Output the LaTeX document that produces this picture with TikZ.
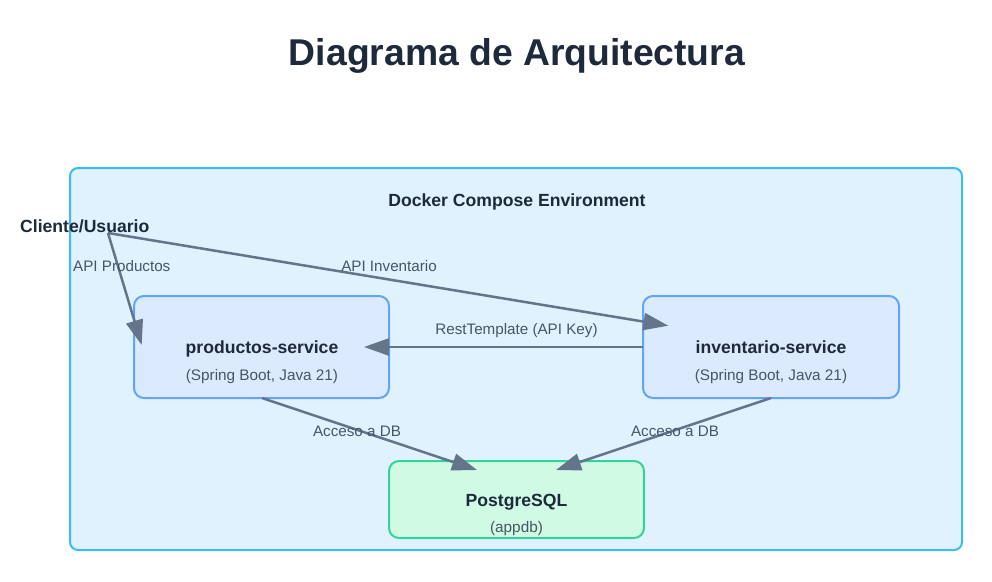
\documentclass[tikz,border=0pt]{standalone}
\usepackage{fontspec}
\setmainfont{Liberation Sans}
\usetikzlibrary{arrows.meta}
\definecolor{ink}{HTML}{1E293B}
\definecolor{sub}{HTML}{475569}
\definecolor{edge}{HTML}{64748B}
\definecolor{envfill}{HTML}{E0F2FE}
\definecolor{envline}{HTML}{38BDF8}
\definecolor{svcfill}{HTML}{DBEAFE}
\definecolor{svcline}{HTML}{60A5FA}
\definecolor{dbfill}{HTML}{D1FAE5}
\definecolor{dbline}{HTML}{34D399}
\tikzset{
  svcbox/.style={draw=svcline, fill=svcfill, line width=2pt, rounded corners=10pt},
  dbbox/.style={draw=dbline, fill=dbfill, line width=2pt, rounded corners=10pt},
  envbox/.style={draw=envline, fill=envfill, line width=2pt, rounded corners=8pt},
  ttl/.style={text=ink, font=\fontsize{17.6}{20}\selectfont\bfseries, inner sep=0pt, anchor=base},
  subt/.style={text=sub, font=\fontsize{15.3}{18}\selectfont, inner sep=0pt, anchor=base},
  lbl/.style={text=sub, font=\fontsize{15.2}{18}\selectfont, inner sep=0pt, anchor=base},
  conn/.style={draw=edge, line width=2.5pt, -{Triangle[length=25pt 0 0,width=17pt 0 0]}}
}
\begin{document}
\begin{tikzpicture}[x=1pt,y=-1pt]
\useasboundingbox (0,0) rectangle (992,581);
\node[text=ink, font=\fontsize{37.3}{42}\selectfont\bfseries, inner sep=0pt] (title) at (517,56) {Diagrama de Arquitectura};
% environment
\path[envbox] (70,168) rectangle (962,550);
\node[ttl] (env) at (517,206) {Docker Compose Environment};
% boxes
\node[svcbox, minimum width=255pt, minimum height=102pt] (prod) at (261.5,347) {};
\node[svcbox, minimum width=256pt, minimum height=102pt] (inv) at (771,347) {};
\node[dbbox, minimum width=255pt, minimum height=77pt] (db) at (516.5,499.5) {};
\node[ttl] (prodt) at (262,353) {productos-service};
\node[subt] (prods) at (262,380) {(Spring Boot, Java 21)};
\node[ttl] (invt) at (771,353) {inventario-service};
\node[subt] (invs) at (771,380) {(Spring Boot, Java 21)};
\node[ttl] (dbt) at (516.5,506) {PostgreSQL};
\node[subt] (dbs) at (516.5,532) {(appdb)};
% client
\node[ttl, anchor=base west] (cli) at (20,232) {Cliente/Usuario};
\coordinate (clo) at (108,233);
% endpoints
\coordinate (prodIn) at (141.7,345);
\coordinate (invIn) at (668.3,325.7);
\coordinate (invL) at (643,347);
\coordinate (prodR) at (364,347);
\coordinate (prodB) at (262,398);
\coordinate (invB) at (771,398);
\coordinate (dbL) at (477,470);
\coordinate (dbR) at (556,470);
% connectors
\draw[conn] (clo) -- (prodIn);
\draw[conn] (clo) -- (invIn);
\draw[conn] (invL) -- (prodR);
\draw[conn] (prodB) -- (dbL);
\draw[conn] (invB) -- (dbR);
% labels
\node[lbl, anchor=base west] (l1) at (73,271) {API Productos};
\node[lbl] (l2) at (389,271) {API Inventario};
\node[lbl] (l3) at (516.5,334) {RestTemplate (API Key)};
\node[lbl] (l4) at (357,436) {Acceso a DB};
\node[lbl] (l5) at (675,436) {Acceso a DB};
\end{tikzpicture}
\end{document}
